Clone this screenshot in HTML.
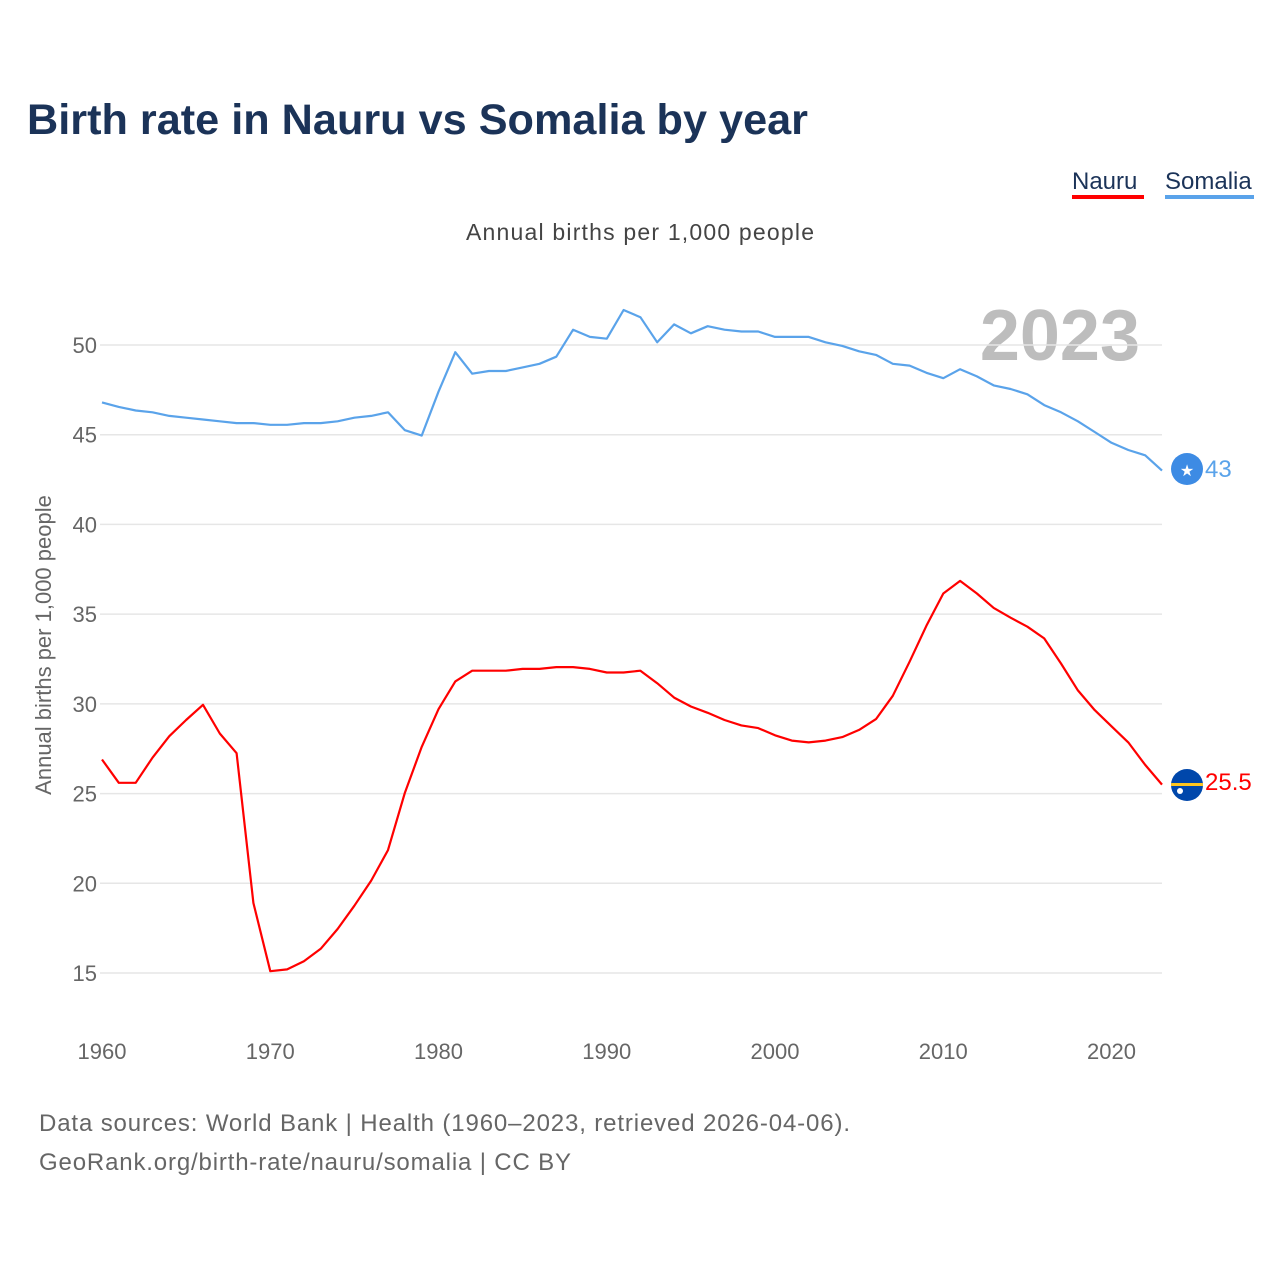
<!DOCTYPE html>
<html><head><meta charset="utf-8"><style>
body{margin:0;background:#fff;font-family:"Liberation Sans",sans-serif}
svg{display:block}
</style></head><body>
<svg width="1280" height="1280" viewBox="0 0 1280 1280">
<text x="27" y="134" font-size="43" font-weight="bold" fill="#1b3358" textLength="781" lengthAdjust="spacingAndGlyphs">Birth rate in Nauru vs Somalia by year</text>
<g>
<text x="1072" y="189" font-size="24" fill="#1b3358">Nauru</text>
<rect x="1072" y="195" width="72" height="4" fill="#ff0000"/>
<text x="1165" y="189" font-size="24" fill="#1b3358">Somalia</text>
<rect x="1165" y="195" width="89" height="4" fill="#5aa3ea"/>
</g>
<text x="640" y="240" font-size="23" fill="#444" text-anchor="middle" textLength="348" lengthAdjust="spacing">Annual births per 1,000 people</text>
<text x="1140" y="360" font-size="72" font-weight="bold" fill="#bdbdbd" text-anchor="end">2023</text>
<text transform="translate(51,645) rotate(-90)" font-size="22" fill="#666" text-anchor="middle">Annual births per 1,000 people</text>
<g id="grid"></g><g id="ylab"></g><g id="xlab"></g><g id="lines"></g>
<g>
<circle cx="1187" cy="469" r="16" fill="#3d8be4"/>
<text x="1187" y="476" font-size="16" fill="#fff" text-anchor="middle">★</text>
<text x="1205" y="477" font-size="24" fill="#5aa3ea">43</text>
</g>
<g>
<clipPath id="cp"><circle cx="1187" cy="785" r="16"/></clipPath>
<g clip-path="url(#cp)"><rect x="1170" y="768" width="34" height="34" fill="#0047ab"/><rect x="1170" y="783" width="34" height="3" fill="#ffc61e"/><circle cx="1180" cy="791" r="3" fill="#fff"/></g>
<text x="1205" y="790" font-size="24" fill="#ff0000">25.5</text>
</g>
<text x="39" y="1131" font-size="24" fill="#666" textLength="811" lengthAdjust="spacing">Data sources: World Bank | Health (1960–2023, retrieved 2026-04-06).</text>
<text x="39" y="1170" font-size="24" fill="#666" textLength="532" lengthAdjust="spacing">GeoRank.org/birth-rate/nauru/somalia | CC BY</text>
</svg>
<script>
const years = Array.from({length:64},(_, i)=>1960+i);
const yTicks = [15,20,25,30,35,40,45,50];
const xTicks = [1960,1970,1980,1990,2000,2010,2020];
const somalia = [46.8,46.55,46.35,46.25,46.05,45.95,45.85,45.75,45.65,45.65,45.55,45.55,45.65,45.65,45.75,45.95,46.05,46.25,45.25,44.95,47.4,49.6,48.4,48.55,48.55,48.75,48.95,49.35,50.85,50.45,50.35,51.95,51.55,50.15,51.15,50.65,51.05,50.85,50.75,50.75,50.45,50.45,50.45,50.15,49.95,49.65,49.45,48.95,48.85,48.45,48.15,48.65,48.25,47.75,47.55,47.25,46.65,46.25,45.75,45.15,44.55,44.15,43.85,43.0];
const nauru = [26.9,25.6,25.6,27.0,28.2,29.1,29.95,28.35,27.25,18.9,15.1,15.2,15.65,16.35,17.45,18.75,20.15,21.85,25.05,27.6,29.7,31.25,31.85,31.85,31.85,31.95,31.95,32.05,32.05,31.95,31.75,31.75,31.85,31.15,30.35,29.85,29.5,29.1,28.8,28.65,28.25,27.95,27.85,27.95,28.15,28.55,29.15,30.45,32.35,34.35,36.15,36.85,36.15,35.35,34.8,34.3,33.65,32.25,30.75,29.65,28.75,27.85,26.6,25.5];
const NS="http://www.w3.org/2000/svg";
const X = y => 102 + (y-1960)*(1162-102)/63;
const Y = v => 345 + (50-v)*(973-345)/35;
function mk(tag, attrs, parent){const e=document.createElementNS(NS,tag);for(const k in attrs)e.setAttribute(k,attrs[k]);parent.appendChild(e);return e;}
const grid=document.getElementById('grid'), ylab=document.getElementById('ylab'), xlab=document.getElementById('xlab'), lines=document.getElementById('lines');
yTicks.forEach(t=>{
  const l=mk('line',{x1:100,x2:1162,y1:Y(t),y2:Y(t),stroke:'#e6e6e6','stroke-width':1.5},grid);
  
  
  const tx=mk('text',{x:97,y:Y(t)+8,'font-size':22,fill:'#666','text-anchor':'end'},ylab);
  tx.textContent=t;
  
  
});
xTicks.forEach(t=>{
  const tx=mk('text',{x:X(t),y:1059,'font-size':22,fill:'#666','text-anchor':'middle'},xlab);
  tx.textContent=t;
  
  
});
function path(vals,color,name){
  const d=vals.map((v,i)=>(i?'L':'M')+X(years[i]).toFixed(1)+','+Y(v).toFixed(1)).join('');
  const p=mk('path',{d:d,fill:'none',stroke:color,'stroke-width':2.2,'stroke-linejoin':'round'},lines);
  
  
}
path(somalia,'#5aa3ea','somalia-line');
path(nauru,'#ff0000','nauru-line');
</script>
</body></html>
